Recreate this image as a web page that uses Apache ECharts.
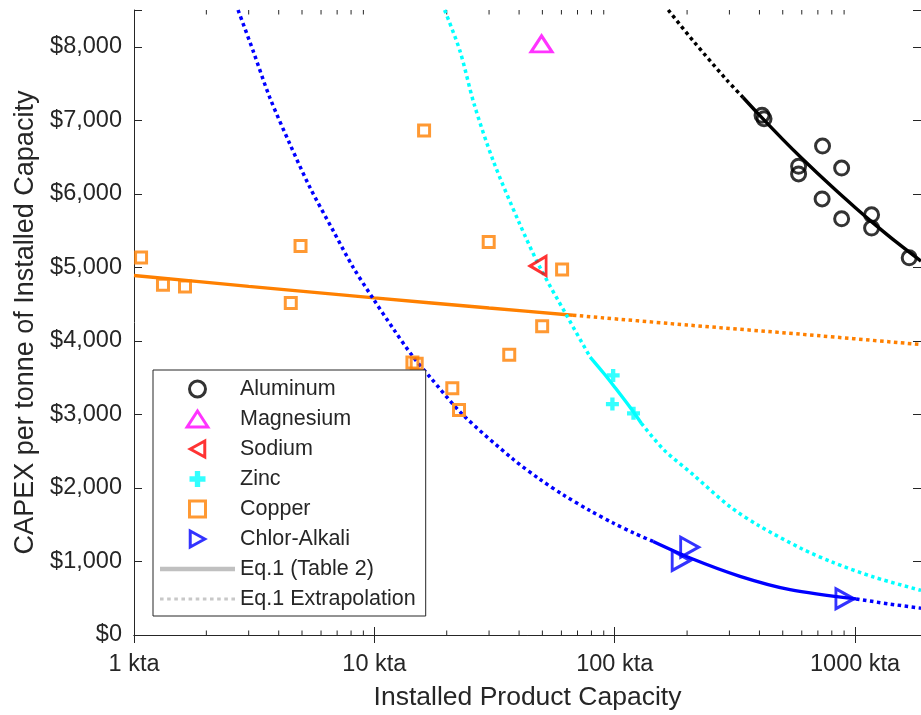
<!DOCTYPE html>
<html>
<head>
<meta charset="utf-8">
<script src="https://cdn.jsdelivr.net/npm/echarts@6/dist/echarts.min.js"></script>
<style>
  html, body { margin: 0; padding: 0; background: #fff; }
  #chart { width: 921px; height: 715px; }
</style>
</head>
<body>
<div id="chart"></div>
<script>
// measured points [capacity kta, CAPEX $/t]
var aluminum = [[410, 7070], [418, 7020], [732, 6650], [582, 6375], [582, 6270], [879, 6350],
  [729, 5930], [879, 5660], [1171, 5715], [1171, 5535], [1679, 5130]];
var magnesium = [[49.6, 8040]];
var sodium = [[48, 5020]];
var zinc = [[98.5, 3530], [97.8, 3140], [119.7, 3015]];
var copper = [[1.07, 5135], [1.32, 4765], [1.63, 4740], [4.49, 4515], [4.93, 5290], [16.1, 6860],
  [14.4, 3705], [15.0, 3690], [21.1, 3355], [22.5, 3060], [29.9, 5345], [60.4, 4970],
  [49.9, 4200], [36.4, 3810]];
var chlorAlkali = [[205, 1194], [189, 1013], [907, 493]];

// Eq.1 curves (solid = fitted range, dotted = extrapolation)
var aluminumExtra = [[167, 8500], [212, 8080], [292, 7550], [342, 7310]];
var aluminumFit = [[342, 7310], [400, 7070], [500, 6741], [600, 6484], [800, 6098], [1000, 5814],
  [1200, 5592], [1500, 5332], [1880, 5085]];
var copperFit = [[1, 4890], [3, 4742], [10, 4585], [30, 4447], [67, 4349]];
var copperExtra = [[67, 4349], [200, 4216], [600, 4090], [1880, 3950]];
var zincExtraHi = [[19.6, 8500], [22.7, 7944], [26, 7220], [31.2, 6452], [40, 5610], [48.8, 5004],
  [63, 4349], [79, 3780]];
var zincFit = [[79, 3780], [90, 3560], [100, 3370], [115, 3110], [129, 2880]];
var zincExtraLo = [[129, 2880], [160, 2520], [212, 2180], [300, 1751], [400, 1483], [600, 1173],
  [800, 994], [1200, 786], [1880, 607]];
var chlorExtraHi = [[2.71, 8500], [3.13, 7944], [3.67, 7311], [4.45, 6678], [5.39, 6090], [6.73, 5502],
  [8.15, 5004], [9.88, 4575], [11.97, 4168], [14.49, 3783], [17.0, 3512], [23.4, 2992],
  [37.8, 2390], [48.8, 2118], [61, 1907], [78.8, 1692], [98.5, 1523], [120, 1387], [144.5, 1272]];
var chlorFit = [[144.5, 1272], [206, 1047], [332, 798], [536, 617], [1010, 491]];
var chlorExtraLo = [[1010, 491], [1400, 420], [1880, 365]];

var xTicks = [1, 10, 100, 1000];
var yTicks = [0, 1000, 2000, 3000, 4000, 5000, 6000, 7000, 8000];
var minorTicks = [];
[1, 10, 100].forEach(function (d) {
  for (var k = 2; k <= 9; k++) minorTicks.push(k * d);
});

var axisColor = '#262626';
var font = 'Liberation Sans, Arial, Helvetica, sans-serif';

// marker / legend icon shapes
var plusPath = 'path://M4,0H8V4H12V8H8V12H4V8H0V4H4Z';
var triUp = 'path://M11,0L22,17L0,17Z';
var triLeft = 'path://M0,11L20,0L20,22Z';
var triRight = 'path://M20,11L0,0L0,22Z';
var squarePath = 'path://M0,0H10V10H0Z';
var solidIcon = 'path://M0,0H75V4.5H0Z';
var dotIcon = 'path://';
for (var i = 0; i < 11; i++) dotIcon += 'M' + (i * 7) + ',0h3.5v3h-3.5z';

function hollow(color) {
  return { color: 'rgba(0,0,0,0)', borderColor: color, borderWidth: 3 };
}
function curve(name, data, color, dotted) {
  return {
    name: name, type: 'line', data: data, smooth: 0.3, symbol: 'none', silent: true,
    lineStyle: { color: color, width: dotted ? 3.5 : 3.4, type: dotted ? [3.5, 3.5] : 'solid' },
    z: 2
  };
}
function xAxisBase(pos) {
  return {
    type: 'log', logBase: 10, min: 1, max: 1880, position: pos,
    axisLine: { show: true, lineStyle: { color: axisColor, width: 1 } },
    axisTick: { show: true, inside: true, length: 8, lineStyle: { color: axisColor } },
    splitLine: { show: false }
  };
}

var chart = echarts.init(document.getElementById('chart'));
var bottomX = xAxisBase('bottom');
bottomX.name = 'Installed Product Capacity';
bottomX.nameLocation = 'middle';
bottomX.nameGap = 49;
bottomX.nameTextStyle = { fontSize: 26.5, color: axisColor, fontFamily: font };
bottomX.axisLabel = {
  fontSize: 23.5, color: axisColor, fontFamily: font, margin: 18,
  formatter: function (v) {
    for (var i = 0; i < xTicks.length; i++) {
      if (Math.abs(v - xTicks[i]) < 1e-6 * xTicks[i]) return xTicks[i] + ' kta';
    }
    return '';
  }
};
var topX = xAxisBase('top');
topX.axisLabel = { show: false };

var markerIcon = { borderWidth: 3 };

chart.setOption({
  animation: false,
  textStyle: { fontFamily: font },
  grid: { left: 134, right: 0, top: 10, bottom: 80, outerBoundsMode: 'none' },
  xAxis: [bottomX, topX],
  yAxis: [
    {
      type: 'value', min: 0, max: 8500, interval: 1000, position: 'left',
      name: 'CAPEX per tonne of Installed Capacity', nameLocation: 'middle', nameGap: 91,
      nameTextStyle: { fontSize: 27, color: axisColor, fontFamily: font },
      axisLine: { show: true, lineStyle: { color: axisColor, width: 1 } },
      axisTick: { show: true, inside: true, length: 8, lineStyle: { color: axisColor } },
      axisLabel: {
        fontSize: 23.5, color: axisColor, fontFamily: font, margin: 12,
        formatter: function (v) {
          return yTicks.indexOf(v) >= 0 ? '$' + v.toLocaleString('en-US') : '';
        }
      },
      splitLine: { show: false }
    },
    {
      type: 'value', min: 0, max: 8500, interval: 1000, position: 'right',
      axisLine: { show: false },
      axisTick: { show: true, inside: true, length: 8, lineStyle: { color: axisColor } },
      axisLabel: { show: false },
      splitLine: { show: false }
    }
  ],
  legend: {
    orient: 'vertical', left: 153, top: 370,
    padding: [8, 10, 6, 7],
    itemWidth: 75, itemHeight: 16, itemGap: 8,
    symbolKeepAspect: true,
    backgroundColor: '#fff', borderColor: axisColor, borderWidth: 1, borderRadius: 0,
    selectedMode: false,
    textStyle: { fontSize: 21.5, lineHeight: 22, color: axisColor, fontFamily: font },
    data: [
      { name: 'Aluminum', icon: 'circle', itemStyle: markerIcon },
      { name: 'Magnesium', icon: triUp, itemStyle: markerIcon },
      { name: 'Sodium', icon: triLeft, itemStyle: markerIcon },
      { name: 'Zinc', icon: plusPath },
      { name: 'Copper', icon: squarePath, itemStyle: markerIcon },
      { name: 'Chlor-Alkali', icon: triRight, itemStyle: markerIcon },
      { name: 'Eq.1 (Table 2)', icon: solidIcon, itemStyle: { color: '#c0c0c0', borderWidth: 0 } },
      { name: 'Eq.1 Extrapolation', icon: dotIcon, itemStyle: { color: '#c8c8c8', borderWidth: 0 } }
    ]
  },
  series: [
    {
      // log minor ticks on bottom and top axes
      type: 'custom', silent: true, clip: false, z: 1,
      data: minorTicks.map(function (v) { return [v, 0]; }),
      renderItem: function (params, api) {
        var b = api.coord([api.value(0), 0]);
        var t = api.coord([api.value(0), 8500]);
        return {
          type: 'group', children: [
            { type: 'line', shape: { x1: b[0], y1: b[1], x2: b[0], y2: b[1] - 4.5 }, style: { stroke: axisColor, lineWidth: 1 } },
            { type: 'line', shape: { x1: t[0], y1: t[1], x2: t[0], y2: t[1] + 4.5 }, style: { stroke: axisColor, lineWidth: 1 } }
          ]
        };
      }
    },
    curve('copperFit', copperFit, '#ff8000', false),
    curve('copperExtra', copperExtra, '#ff8000', true),
    curve('chlorExtraHi', chlorExtraHi, '#0000ff', true),
    curve('chlorFit', chlorFit, '#0000ff', false),
    curve('chlorExtraLo', chlorExtraLo, '#0000ff', true),
    curve('zincExtraHi', zincExtraHi, '#00ffff', true),
    curve('zincFit', zincFit, '#00ffff', false),
    curve('zincExtraLo', zincExtraLo, '#00ffff', true),
    curve('aluminumExtra', aluminumExtra, '#000000', true),
    curve('aluminumFit', aluminumFit, '#000000', false),
    { name: 'Aluminum', type: 'scatter', data: aluminum, symbol: 'circle', symbolSize: 14, itemStyle: hollow('#000000'), z: 3 },
    { name: 'Magnesium', type: 'scatter', data: magnesium, symbol: 'triangle', symbolSize: [21, 16], itemStyle: hollow('#ff00ff'), z: 3 },
    { name: 'Sodium', type: 'scatter', data: sodium, symbol: 'triangle', symbolSize: [19, 16], symbolRotate: 90, itemStyle: hollow('#ff0000'), z: 3 },
    { name: 'Zinc', type: 'scatter', data: zinc, symbol: plusPath, symbolSize: 13, itemStyle: { color: '#00ffff' }, z: 3 },
    { name: 'Copper', type: 'scatter', data: copper, symbol: 'rect', symbolSize: 11, itemStyle: hollow('#ff8000'), z: 3 },
    { name: 'Chlor-Alkali', type: 'scatter', data: chlorAlkali, symbol: 'triangle', symbolSize: [20, 18], symbolRotate: -90, itemStyle: hollow('#0000ff'), z: 3 },
    { name: 'Eq.1 (Table 2)', type: 'line', data: [], symbol: 'none', lineStyle: { color: '#c0c0c0', width: 4 } },
    { name: 'Eq.1 Extrapolation', type: 'line', data: [], symbol: 'none', lineStyle: { color: '#c8c8c8', width: 3, type: [3, 4] } }
  ]
});
</script>
</body>
</html>
